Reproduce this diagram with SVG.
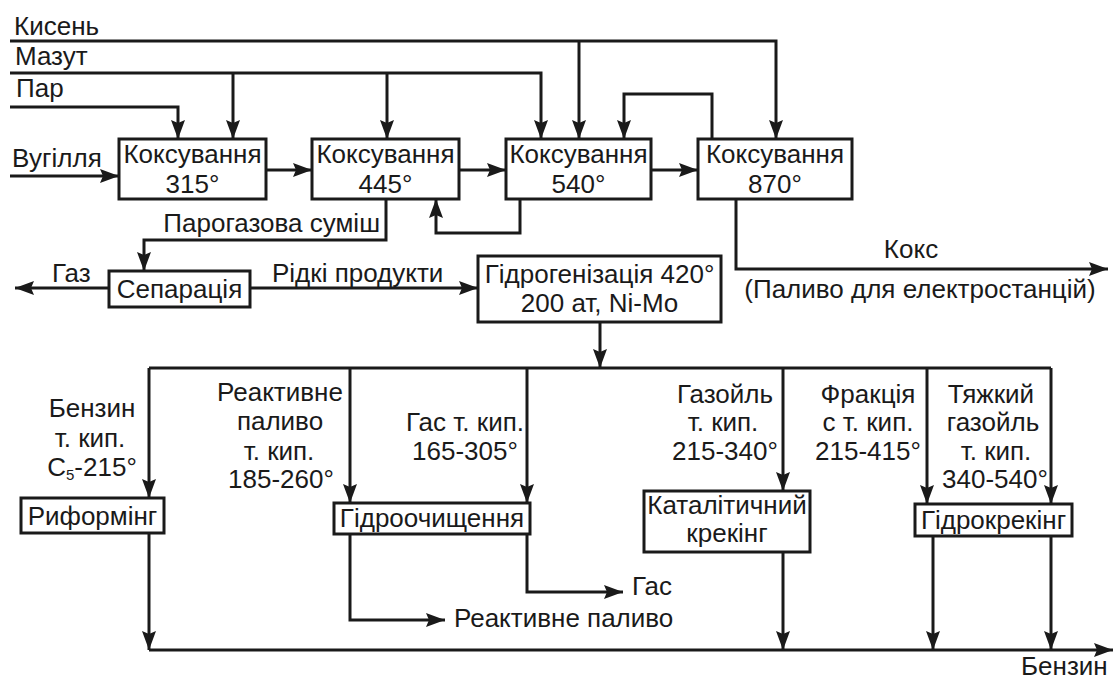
<svg xmlns="http://www.w3.org/2000/svg" width="1115" height="679" viewBox="0 0 1115 679">
<defs>
<marker id="ah" markerUnits="userSpaceOnUse" markerWidth="20" markerHeight="14" refX="19" refY="7" orient="auto">
<path d="M0,0 L19,7 L0,14 L3,7 z" fill="#1a1a1a"/>
</marker>
<style>
.box{fill:#fff;stroke:#1a1a1a;stroke-width:3}
.ln{fill:none;stroke:#1a1a1a;stroke-width:3}
.ar{fill:none;stroke:#1a1a1a;stroke-width:3;marker-end:url(#ah)}
text{font-family:"Liberation Sans",Arial,sans-serif;font-size:26px;fill:#1a1a1a}
.m{text-anchor:middle}
.e{text-anchor:end}
</style>
</defs>
<rect width="1115" height="679" fill="#fff"/>
<g id="connectors">
<path class="ar" d="M10,107 H178 V139"/>
<path class="ar" d="M10,73 H541 V139"/>
<path class="ar" d="M233,73 V139"/>
<path class="ar" d="M387,73 V139"/>
<path class="ar" d="M10,41 H776 V139"/>
<path class="ar" d="M579,41 V139"/>
<path class="ar" d="M10,176 H119"/>
<path class="ar" d="M266,170 H312"/>
<path class="ar" d="M459,170 H506"/>
<path class="ar" d="M651,170 H698"/>
<path class="ar" d="M712,139 V94 H624 V139"/>
<path class="ar" d="M520,199 V233 H436 V199"/>
<path class="ar" d="M386,199 V240 H144 V271"/>
<path class="ar" d="M109,288 H15"/>
<path class="ar" d="M250,288 H478"/>
<path class="ar" d="M736,199 V269 H1108"/>
<path class="ar" d="M600,322 V368"/>
<path class="ln" d="M149,368 H1051"/>
<path class="ar" d="M149,368 V498"/>
<path class="ar" d="M350,368 V503"/>
<path class="ar" d="M527,368 V503"/>
<path class="ar" d="M783,368 V491"/>
<path class="ar" d="M927,368 V504"/>
<path class="ar" d="M1051,368 V504"/>
<path class="ar" d="M149,533 V650"/>
<path class="ar" d="M350,534 V620 H445"/>
<path class="ar" d="M527,534 V592 H623"/>
<path class="ar" d="M783,552 V650"/>
<path class="ar" d="M933,536 V650"/>
<path class="ar" d="M1051,536 V650"/>
<path class="ar" d="M149,650 H1113"/>
</g>
<g id="labels">
<text x="14" y="35">Кисень</text>
<text x="15" y="65">Мазут</text>
<text x="16" y="97">Пар</text>
<text x="12" y="167">Вугілля</text>
<text class="e" x="380" y="232">Парогазова суміш</text>
<text x="52" y="282">Газ</text>
<text x="272" y="282">Рідкі продукти</text>
<text class="m" x="911" y="258">Кокс</text>
<text class="m" x="920" y="298">(Паливо для електростанцій)</text>
<text class="m" x="92" y="417">Бензин</text>
<text class="m" x="90" y="447">т. кип.</text>
<text class="m" x="92" y="476">C<tspan font-size="15" dy="4">5</tspan><tspan dy="-4">-215°</tspan></text>
<text class="m" x="280" y="401">Реактивне</text>
<text class="m" x="280" y="430">паливо</text>
<text class="m" x="279" y="460">т. кип.</text>
<text class="m" x="281" y="488">185-260°</text>
<text class="m" x="465" y="431">Гас т. кип.</text>
<text class="m" x="465" y="460">165-305°</text>
<text class="m" x="725" y="403">Газойль</text>
<text class="m" x="723" y="431">т. кип.</text>
<text class="m" x="725" y="460">215-340°</text>
<text class="m" x="868" y="403">Фракція</text>
<text class="m" x="868" y="431">с т. кип.</text>
<text class="m" x="868" y="460">215-415°</text>
<text class="m" x="991" y="403">Тяжкий</text>
<text class="m" x="993" y="431">газойль</text>
<text class="m" x="996" y="460">т. кип.</text>
<text class="m" x="995" y="488">340-540°</text>
<text x="632" y="595">Гас</text>
<text x="454" y="627">Реактивне паливо</text>
<text x="1021" y="675">Бензин</text>
</g>
<g id="koks315"><rect class="box" x="119" y="139" width="147" height="60"/><text class="m" x="192.5" y="163">Коксування</text><text class="m" x="192.5" y="193">315°</text></g>
<g id="koks445"><rect class="box" x="312" y="139" width="147" height="60"/><text class="m" x="385.5" y="163">Коксування</text><text class="m" x="385.5" y="193">445°</text></g>
<g id="koks540"><rect class="box" x="506" y="139" width="145" height="60"/><text class="m" x="578.5" y="163">Коксування</text><text class="m" x="578.5" y="193">540°</text></g>
<g id="koks870"><rect class="box" x="698" y="139" width="154" height="60"/><text class="m" x="775" y="163">Коксування</text><text class="m" x="775" y="193">870°</text></g>
<g id="separation"><rect class="box" x="109" y="271" width="141" height="36"/><text class="m" x="179.5" y="298">Сепарація</text></g>
<g id="hydrogenation"><rect class="box" x="478" y="256" width="243" height="66"/><text class="m" x="599.5" y="283">Гідрогенізація 420°</text><text class="m" x="599.5" y="312">200 ат, Ni-Mo</text></g>
<g id="reforming"><rect class="box" x="21" y="498" width="143" height="35"/><text class="m" x="92.5" y="525">Риформінг</text></g>
<g id="hydrotreating"><rect class="box" x="334" y="503" width="196" height="31"/><text class="m" x="432" y="527">Гідроочищення</text></g>
<g id="catcracking"><rect class="box" x="644" y="491" width="166" height="61"/><text class="m" x="727" y="514">Каталітичний</text><text class="m" x="727" y="542">крекінг</text></g>
<g id="hydrocracking"><rect class="box" x="915" y="504" width="157" height="32"/><text class="m" x="993.5" y="529">Гідрокрекінг</text></g>
</svg>
